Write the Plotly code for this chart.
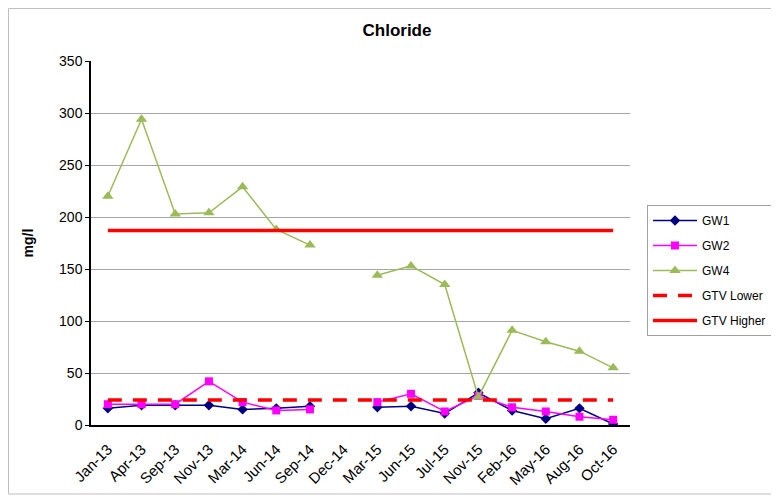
import plotly.graph_objects as go

categories = ["Jan-13", "Apr-13", "Sep-13", "Nov-13", "Mar-14", "Jun-14", "Sep-14", "Dec-14",
              "Mar-15", "Jun-15", "Jul-15", "Nov-15", "Feb-16", "May-16", "Aug-16", "Oct-16"]
gw1 = [16, 19, 19, 19, 15, 16, 18, None, 17, 18, 11, 31, 14, 6, 16, 1]
gw2 = [20, 20, 20, 42, 22, 14, 15, None, 22, 30, 13, 28, 17, 13, 8, 5]
gw4 = [220, 294, 203, 204, 229, 188, 173, None, 144, 153, 135, 27, 91, 80, 71, 55]
gtv_lower = [24] * len(categories)
gtv_higher = [187] * len(categories)

font = "Liberation Sans, Arial, sans-serif"

fig = go.Figure()
fig.add_trace(go.Scatter(x=categories, y=gw1, name="GW1", mode="lines+markers", legendgroup="a",
                         line=dict(color="#000080", width=1.5),
                         marker=dict(symbol="diamond", size=8, color="#000080")))
fig.add_trace(go.Scatter(x=categories, y=gw2, name="GW2", mode="lines+markers", legendgroup="b",
                         line=dict(color="#FF00FF", width=1.5),
                         marker=dict(symbol="square", size=8, color="#FF00FF")))
fig.add_trace(go.Scatter(x=categories, y=gw4, name="GW4", mode="lines+markers", legendgroup="c",
                         line=dict(color="#9BBB59", width=1.5),
                         marker=dict(symbol="triangle-up", size=10, color="#9BBB59")))
fig.add_trace(go.Scatter(x=categories, y=gtv_lower, name="GTV Lower", mode="lines", legendgroup="d",
                         line=dict(color="#FF0000", width=3.5, dash="14px,11px")))
fig.add_trace(go.Scatter(x=categories, y=gtv_higher, name="GTV Higher", mode="lines", legendgroup="e",
                         line=dict(color="#FF0000", width=3.5)))

# page body has an 8px margin; compensate
OFF = 8
W, H = 779 - OFF, 497 - OFF
ml = 91 - OFF
mt = 61 - OFF
pr = 630 - OFF
pb = 425 - OFF
mr, mb = W - pr, H - pb
pw, ph = W - ml - mr, H - mt - mb

fig.update_layout(
    width=W, height=H,
    margin=dict(l=ml, r=mr, t=mt, b=mb, autoexpand=False),
    paper_bgcolor="white", plot_bgcolor="white",
    font=dict(family=font, size=13, color="black"),
    title=dict(text="<b>Chloride</b>", x=(397 - OFF) / W, xanchor="center",
               y=1 - (30 - OFF) / H, yanchor="middle",
               font=dict(size=17, family=font)),
    showlegend=True,
    legend=dict(x=(647 - OFF - ml) / pw, xanchor="left", y=1 - (205 - OFF - mt) / ph, yanchor="top",
                bordercolor="#A0A0A0", borderwidth=1, font=dict(size=12, family=font),
                tracegroupgap=6, itemwidth=44, bgcolor="white"),
    xaxis=dict(type="category", categoryorder="array", categoryarray=categories,
               range=[-0.5, len(categories) - 0.5], tickangle=-45,
               showline=True, linecolor="black", linewidth=1.5, showgrid=False,
               ticks="", tickfont=dict(size=15), automargin=False, ticklabelstandoff=8),
    yaxis=dict(range=[0, 350], dtick=50, showline=True, linecolor="black", linewidth=1.5,
               showgrid=True, gridcolor="#A6A6A6", gridwidth=1, ticks="outside", ticklen=4,
               tickcolor="black", tickfont=dict(size=14), zeroline=False, automargin=False,
               title=dict(text="<b>mg/l</b>", font=dict(size=14), standoff=22)),
    shapes=[dict(type="rect", xref="paper", yref="paper",
                 x0=(0.5 - ml) / pw, x1=(776 - OFF - ml) / pw,
                 y0=1 - (494 - OFF - mt) / ph, y1=1 - (0.5 - mt) / ph,
                 line=dict(color="#BFBFBF", width=1), layer="below")],
)

fig.write_html("out.html")
